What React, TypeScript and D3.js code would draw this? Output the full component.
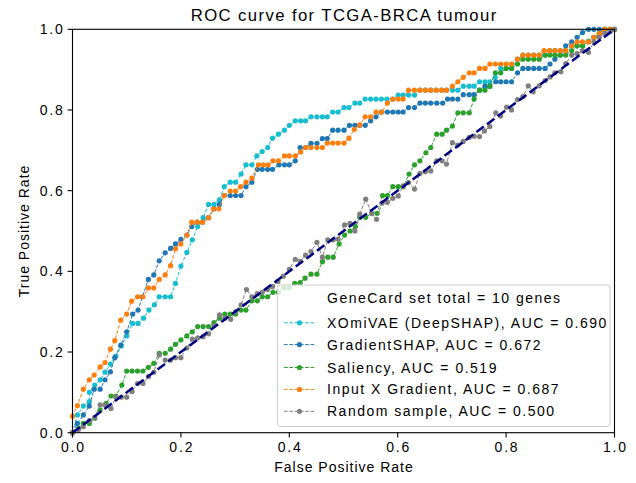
import React from "react";
import * as d3 from "d3";

// ---------- data ----------
const xTicks = [0, 0.2, 0.4, 0.6, 0.8, 1.0];
const yTicks = [0, 0.2, 0.4, 0.6, 0.8, 1.0];

const xomiPts: [number, number][] = [
  [0,0],[0.009,0.044],[0.020,0.066],[0.031,0.077],[0.031,0.100],[0.041,0.118],[0.051,0.131],[0.060,0.150],
  [0.070,0.170],[0.080,0.190],[0.090,0.215],[0.100,0.240],[0.111,0.271],[0.121,0.271],[0.131,0.284],
  [0.141,0.304],[0.151,0.317],[0.160,0.337],[0.171,0.337],[0.181,0.337],[0.190,0.370],[0.200,0.413],
  [0.211,0.447],[0.221,0.478],[0.231,0.511],[0.241,0.533],[0.251,0.566],[0.261,0.566],[0.271,0.577],
  [0.280,0.610],[0.291,0.621],[0.301,0.621],[0.311,0.641],[0.320,0.664],[0.331,0.664],[0.340,0.686],
  [0.350,0.697],[0.360,0.707],[0.369,0.730],[0.380,0.740],[0.391,0.750],[0.400,0.762],[0.411,0.773],
  [0.421,0.773],[0.430,0.773],[0.440,0.783],[0.451,0.783],[0.461,0.783],[0.470,0.783],[0.480,0.795],
  [0.490,0.795],[0.501,0.806],[0.510,0.806],[0.521,0.817],[0.530,0.817],[0.540,0.827],[0.550,0.827],
  [0.560,0.827],[0.570,0.827],[0.580,0.827],[0.591,0.827],[0.601,0.837],[0.610,0.837],[0.620,0.837],
  [0.631,0.837],[0.641,0.849],[0.651,0.849],[0.661,0.849],[0.671,0.849],[0.681,0.849],[0.690,0.849],
  [0.701,0.849],[0.711,0.849],[0.721,0.859],[0.732,0.859],[0.741,0.859],[0.751,0.870],[0.761,0.870],
  [0.770,0.870],[0.780,0.881],[0.790,0.903],[0.800,0.903],[0.810,0.903],[0.821,0.926],[0.831,0.936],
  [0.841,0.936],[0.851,0.936],[0.861,0.936],[0.872,0.936],[0.881,0.947],[0.890,0.947],[0.900,0.947],
  [0.910,0.947],[0.921,0.959],[0.931,0.959],[0.941,0.959],[0.952,0.971],[0.962,0.980],[0.972,0.990],
  [0.982,1.0],[0.992,1.0],[1,1],
];

const gradShapPts: [number, number][] = [
  [0,0],[0.009,0.023],[0.020,0.044],[0.031,0.066],[0.040,0.108],[0.051,0.108],[0.060,0.131],[0.070,0.151],
  [0.078,0.186],[0.089,0.217],[0.100,0.250],[0.111,0.294],[0.121,0.304],[0.129,0.337],[0.140,0.380],
  [0.150,0.391],[0.160,0.426],[0.171,0.446],[0.181,0.457],[0.190,0.468],[0.200,0.479],[0.211,0.490],
  [0.220,0.511],[0.230,0.522],[0.240,0.522],[0.251,0.533],[0.261,0.555],[0.271,0.566],[0.280,0.588],
  [0.291,0.588],[0.301,0.588],[0.311,0.588],[0.320,0.610],[0.331,0.621],[0.341,0.653],[0.350,0.653],
  [0.360,0.653],[0.369,0.653],[0.381,0.664],[0.391,0.664],[0.400,0.664],[0.411,0.674],[0.420,0.707],
  [0.430,0.707],[0.440,0.717],[0.451,0.717],[0.461,0.729],[0.470,0.729],[0.480,0.750],[0.490,0.750],
  [0.501,0.750],[0.511,0.762],[0.521,0.762],[0.530,0.762],[0.540,0.762],[0.550,0.773],[0.560,0.783],
  [0.570,0.795],[0.581,0.795],[0.591,0.795],[0.601,0.795],[0.610,0.795],[0.620,0.806],[0.631,0.806],
  [0.641,0.817],[0.651,0.817],[0.661,0.817],[0.672,0.817],[0.683,0.817],[0.692,0.827],[0.701,0.827],
  [0.711,0.827],[0.721,0.838],[0.732,0.838],[0.741,0.838],[0.751,0.849],[0.761,0.859],[0.770,0.859],
  [0.781,0.870],[0.790,0.870],[0.800,0.870],[0.810,0.870],[0.821,0.892],[0.831,0.903],[0.841,0.903],
  [0.851,0.903],[0.861,0.903],[0.872,0.903],[0.881,0.914],[0.890,0.926],[0.900,0.936],[0.910,0.959],
  [0.921,0.969],[0.931,0.980],[0.941,0.992],[0.952,1.0],[0.962,1.0],[0.972,1.0],[0.982,1.0],[0.992,1.0],[1,1],
];

const saliencyPts: [number, number][] = [
  [0,0],[0.011,0.011],[0.020,0.023],[0.031,0.023],[0.041,0.036],[0.051,0.056],[0.062,0.073],[0.071,0.091],
  [0.080,0.091],[0.091,0.118],[0.100,0.153],[0.110,0.153],[0.120,0.153],[0.130,0.153],[0.140,0.162],
  [0.150,0.172],[0.160,0.197],[0.171,0.197],[0.181,0.207],[0.190,0.219],[0.200,0.230],[0.211,0.240],
  [0.221,0.250],[0.231,0.263],[0.241,0.263],[0.251,0.263],[0.261,0.273],[0.271,0.284],[0.281,0.294],
  [0.291,0.294],[0.301,0.294],[0.311,0.304],[0.320,0.304],[0.331,0.327],[0.341,0.327],[0.350,0.337],
  [0.360,0.337],[0.370,0.348],[0.380,0.348],[0.390,0.359],[0.400,0.359],[0.410,0.370],[0.420,0.372],
  [0.429,0.383],[0.440,0.393],[0.451,0.393],[0.461,0.424],[0.471,0.435],[0.481,0.435],[0.492,0.468],
  [0.502,0.490],[0.512,0.500],[0.522,0.511],[0.530,0.534],[0.541,0.534],[0.552,0.544],[0.562,0.544],
  [0.572,0.588],[0.581,0.588],[0.591,0.610],[0.601,0.610],[0.610,0.610],[0.621,0.641],[0.631,0.664],
  [0.641,0.674],[0.652,0.694],[0.661,0.707],[0.672,0.740],[0.682,0.740],[0.690,0.750],[0.701,0.760],
  [0.711,0.793],[0.721,0.793],[0.732,0.793],[0.741,0.827],[0.751,0.849],[0.761,0.849],[0.770,0.859],
  [0.780,0.892],[0.790,0.892],[0.800,0.903],[0.810,0.903],[0.821,0.914],[0.831,0.926],[0.841,0.926],
  [0.851,0.926],[0.861,0.926],[0.872,0.936],[0.881,0.936],[0.890,0.936],[0.900,0.936],[0.910,0.936],
  [0.921,0.947],[0.931,0.959],[0.941,0.959],[0.952,0.969],[0.962,0.980],[0.972,0.990],[0.982,1.0],
  [0.992,1.0],[1,1],
];

const inputGradPts: [number, number][] = [
  [0,0],[0.000,0.041],[0.009,0.067],[0.020,0.108],[0.031,0.131],[0.040,0.143],[0.051,0.163],[0.060,0.174],
  [0.070,0.207],[0.078,0.228],[0.089,0.279],[0.100,0.294],[0.109,0.326],[0.120,0.337],[0.130,0.337],
  [0.140,0.359],[0.150,0.359],[0.160,0.380],[0.171,0.391],[0.181,0.414],[0.190,0.456],[0.200,0.468],
  [0.211,0.490],[0.220,0.522],[0.230,0.522],[0.240,0.522],[0.251,0.533],[0.260,0.555],[0.270,0.555],
  [0.280,0.588],[0.291,0.599],[0.301,0.599],[0.310,0.610],[0.320,0.621],[0.331,0.631],[0.343,0.664],
  [0.352,0.664],[0.361,0.664],[0.370,0.674],[0.380,0.674],[0.391,0.686],[0.400,0.686],[0.411,0.686],
  [0.421,0.696],[0.430,0.707],[0.440,0.707],[0.451,0.707],[0.461,0.707],[0.470,0.718],[0.480,0.718],
  [0.490,0.718],[0.501,0.718],[0.510,0.730],[0.520,0.752],[0.530,0.763],[0.540,0.783],[0.550,0.783],
  [0.560,0.795],[0.570,0.795],[0.581,0.817],[0.591,0.827],[0.601,0.827],[0.610,0.827],[0.620,0.849],
  [0.631,0.849],[0.641,0.849],[0.651,0.849],[0.661,0.849],[0.671,0.849],[0.681,0.849],[0.690,0.849],
  [0.701,0.859],[0.711,0.870],[0.721,0.881],[0.732,0.892],[0.741,0.892],[0.751,0.903],[0.761,0.903],
  [0.770,0.914],[0.780,0.914],[0.790,0.914],[0.800,0.914],[0.810,0.914],[0.821,0.926],[0.831,0.936],
  [0.841,0.936],[0.851,0.936],[0.861,0.936],[0.870,0.947],[0.880,0.947],[0.890,0.947],[0.900,0.947],
  [0.910,0.947],[0.921,0.959],[0.931,0.969],[0.941,0.969],[0.952,0.969],[0.962,0.980],[0.972,0.990],
  [0.982,1.0],[0.992,1.0],[1,1],
];

const randomPts: [number, number][] = [
  [0,0],[0.011,0.008],[0.020,0.015],[0.031,0.030],[0.041,0.038],[0.051,0.069],[0.060,0.069],[0.071,0.060],
  [0.080,0.088],[0.090,0.088],[0.100,0.088],[0.110,0.102],[0.120,0.122],[0.130,0.122],[0.140,0.139],
  [0.150,0.150],[0.160,0.193],[0.171,0.180],[0.181,0.180],[0.190,0.186],[0.200,0.186],[0.211,0.210],
  [0.221,0.232],[0.231,0.235],[0.241,0.238],[0.251,0.245],[0.261,0.265],[0.271,0.292],[0.281,0.284],
  [0.292,0.281],[0.301,0.300],[0.311,0.317],[0.321,0.355],[0.331,0.337],[0.341,0.345],[0.350,0.348],
  [0.360,0.355],[0.369,0.362],[0.379,0.375],[0.389,0.388],[0.400,0.405],[0.411,0.430],[0.420,0.425],
  [0.430,0.440],[0.440,0.449],[0.451,0.472],[0.461,0.435],[0.471,0.478],[0.481,0.478],[0.490,0.480],
  [0.502,0.515],[0.512,0.519],[0.521,0.500],[0.530,0.542],[0.541,0.579],[0.552,0.544],[0.561,0.529],
  [0.571,0.569],[0.581,0.571],[0.591,0.581],[0.601,0.587],[0.610,0.612],[0.620,0.620],[0.631,0.604],
  [0.641,0.643],[0.651,0.647],[0.661,0.649],[0.672,0.674],[0.682,0.674],[0.690,0.666],[0.701,0.719],
  [0.711,0.713],[0.721,0.722],[0.732,0.732],[0.741,0.735],[0.751,0.734],[0.760,0.748],[0.770,0.759],
  [0.781,0.793],[0.790,0.785],[0.801,0.807],[0.810,0.800],[0.821,0.826],[0.831,0.833],[0.841,0.860],
  [0.850,0.845],[0.861,0.860],[0.872,0.873],[0.881,0.882],[0.890,0.892],[0.901,0.895],[0.910,0.915],
  [0.921,0.936],[0.931,0.940],[0.941,0.947],[0.952,0.943],[0.962,0.969],[0.972,0.980],[0.982,0.990],
  [0.992,0.995],[1,1],
];

const seriesNames = [
  "XOmiVAE (DeepSHAP), AUC =  0.690",
  "GradientSHAP, AUC =  0.672",
  "Saliency, AUC =  0.519",
  "Input X Gradient, AUC =  0.687",
  "Random sample, AUC =  0.500",
];
const seriesColors = ["#17becf", "#1f77b4", "#2ca02c", "#ff7f0e", "#7f7f7f"];
const seriesData = [xomiPts, gradShapPts, saliencyPts, inputGradPts, randomPts];
const legendHeader = "GeneCard set total = 10 genes";

// ---------- layout ----------
const W = 636, H = 483;
const X0 = 72.5, X1 = 614.5, Y0 = 432.7, Y1 = 29.3;
const FONT = "'Liberation Sans', Arial, Helvetica, sans-serif";

export default function App() {
  const x = d3.scaleLinear().domain([0, 1]).range([X0, X1]);
  const y = d3.scaleLinear().domain([0, 1]).range([Y0, Y1]);
  const line = d3.line<[number, number]>().x((d) => x(d[0])).y((d) => y(d[1]));

  const legendRowsY = [297.5, 322.8, 344.6, 367.5, 389.4, 411.3];
  const tickLS = 1.8;
  const legLS = 1.5;

  return (
    <div style={{ position: "absolute", left: 0, top: 0 }}>
      <svg width={W} height={H} style={{ display: "block", background: "#fff" }} fontFamily={FONT}>
        <rect x={0} y={0} width={W} height={H} fill="#fff" />
        <defs>
          <clipPath id="plotclip">
            <rect x={X0 - 4} y={Y1 - 4} width={X1 - X0 + 8} height={Y0 - Y1 + 8} />
          </clipPath>
        </defs>

        <g clipPath="url(#plotclip)">
          {seriesData.map((pts, i) => (
            <g key={i}>
              <path d={line(pts) || ""} fill="none" stroke={seriesColors[i]} strokeWidth={1}
                strokeDasharray="3.7,1.6" />
              {pts.map((p, j) => (
                <circle key={j} cx={x(p[0])} cy={y(p[1])} r={2.6} fill={seriesColors[i]} />
              ))}
            </g>
          ))}
          <path d={line([[0, 0], [1, 1]]) || ""} fill="none" stroke="#000080" strokeWidth={2.5}
            strokeDasharray="9.25,4" />
        </g>

        {/* spines */}
        <rect x={X0} y={Y1} width={X1 - X0} height={Y0 - Y1} fill="none" stroke="#000" strokeWidth={1.1} />

        {/* x ticks */}
        {xTicks.map((t) => (
          <g key={"x" + t}>
            <line x1={x(t)} x2={x(t)} y1={Y0} y2={Y0 + 4.9} stroke="#000" strokeWidth={1.1} />
            <text x={x(t) + tickLS / 2} y={Y0 + 19.5} textAnchor="middle" fontSize={14} fill="#000"
              letterSpacing={tickLS}>
              {t.toFixed(1)}
            </text>
          </g>
        ))}
        {/* y ticks */}
        {yTicks.map((t) => (
          <g key={"y" + t}>
            <line x1={X0 - 4.9} x2={X0} y1={y(t)} y2={y(t)} stroke="#000" strokeWidth={1.1} />
            <text x={X0 - 9.8 + tickLS} y={y(t) + 5} textAnchor="end" fontSize={14} fill="#000"
              letterSpacing={tickLS}>
              {t.toFixed(1)}
            </text>
          </g>
        ))}

        {/* labels */}
        <text x={(X0 + X1) / 2 + 0.7} y={21} textAnchor="middle" fontSize={16.7} fill="#000" letterSpacing={1.4}>
          ROC curve for TCGA-BRCA tumour
        </text>
        <text x={(X0 + X1) / 2 + 0.5} y={472} textAnchor="middle" fontSize={14} fill="#000" letterSpacing={1}>
          False Positive Rate
        </text>
        <text transform={`translate(29,${(Y0 + Y1) / 2}) rotate(-90)`} textAnchor="middle" fontSize={14}
          fill="#000" letterSpacing={1}>
          True Positive Rate
        </text>

        {/* legend */}
        <rect x={277.5} y={285} width={332.5} height={141.5} rx={3} fill="#fff" fillOpacity={0.8}
          stroke="#cccccc" strokeWidth={1} />
        <text x={327} y={legendRowsY[0] + 5} fontSize={14} fill="#000" letterSpacing={legLS}>{legendHeader}</text>
        {seriesNames.map((name, i) => {
          const cy = legendRowsY[i + 1];
          return (
            <g key={name}>
              <line x1={284} x2={315} y1={cy} y2={cy} stroke={seriesColors[i]} strokeWidth={1}
                strokeDasharray="3.7,1.6" />
              <circle cx={299.5} cy={cy} r={2.6} fill={seriesColors[i]} />
              <text x={327} y={cy + 5} fontSize={14} fill="#000" letterSpacing={legLS}>{name}</text>
            </g>
          );
        })}
      </svg>
    </div>
  );
}
